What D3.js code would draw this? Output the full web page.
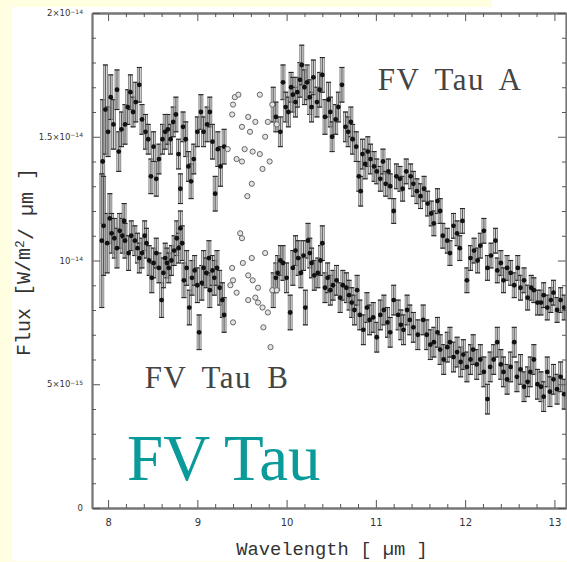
<!DOCTYPE html>
<html>
<head>
<meta charset="utf-8">
<script src="https://cdn.jsdelivr.net/npm/d3@7/dist/d3.min.js"></script>
<style>
  html, body { margin: 0; padding: 0; background: #fffee0; }
  svg { display: block; }
</style>
</head>
<body>
<svg id="chart" width="567" height="562"></svg>
<script>
// Mid-infrared spectra of the FV Tau binary, flux in units of 1e-14 W/m^2/um.
// Each entry: [wavelength (um), flux, 1-sigma error]
const tauA_short = [
  [7.94,1.40,0.25],[7.97,1.61,0.18],[8.00,1.52,0.10],[8.03,1.66,0.09],[8.06,1.55,0.10],
  [8.10,1.69,0.08],[8.12,1.44,0.08],[8.15,1.53,0.07],[8.19,1.55,0.08],[8.22,1.62,0.07],
  [8.25,1.68,0.07],[8.28,1.60,0.06],[8.31,1.64,0.08],[8.35,1.71,0.07],[8.38,1.57,0.06],
  [8.42,1.52,0.07],[8.45,1.49,0.06],[8.48,1.34,0.07],[8.51,1.46,0.06],[8.54,1.33,0.07],
  [8.57,1.41,0.06],[8.61,1.49,0.06],[8.64,1.52,0.07],[8.67,1.53,0.06],[8.70,1.49,0.06],
  [8.73,1.56,0.06],[8.76,1.59,0.07],[8.79,1.43,0.06],[8.81,1.29,0.06],[8.84,1.54,0.06],
  [8.87,1.49,0.07],[8.90,1.38,0.06],[8.93,1.32,0.07],[8.96,1.41,0.06],[9.00,1.52,0.06],
  [9.04,1.60,0.07],[9.07,1.52,0.06],[9.11,1.55,0.07],[9.14,1.60,0.06],[9.17,1.48,0.07],
  [9.20,1.27,0.07],[9.23,1.45,0.07],[9.26,1.38,0.08],[9.30,1.46,0.07]
];
const tauA_long = [
  [9.85,1.63,0.07],[9.88,1.58,0.06],[9.93,1.52,0.06],[9.96,1.72,0.07],[9.99,1.62,0.06],
  [10.02,1.60,0.06],[10.05,1.70,0.06],[10.07,1.67,0.07],[10.10,1.64,0.06],[10.12,1.68,0.06],
  [10.15,1.73,0.07],[10.17,1.79,0.08],[10.20,1.70,0.07],[10.23,1.72,0.07],[10.26,1.66,0.07],
  [10.28,1.62,0.06],[10.30,1.74,0.07],[10.34,1.64,0.06],[10.37,1.69,0.07],[10.40,1.75,0.07],
  [10.43,1.58,0.07],[10.47,1.65,0.07],[10.49,1.60,0.06],[10.51,1.50,0.06],[10.55,1.57,0.06],
  [10.58,1.62,0.06],[10.62,1.71,0.07],[10.66,1.54,0.06],[10.69,1.52,0.06],[10.72,1.56,0.06],
  [10.74,1.49,0.06],[10.78,1.46,0.06],[10.81,1.34,0.06],[10.83,1.28,0.06],[10.85,1.43,0.06],
  [10.88,1.39,0.06],[10.91,1.44,0.06],[10.94,1.41,0.06],[10.98,1.38,0.06],[11.01,1.36,0.05],
  [11.05,1.33,0.05],[11.08,1.40,0.05],[11.11,1.31,0.05],[11.14,1.36,0.05],[11.16,1.30,0.05],
  [11.20,1.20,0.05],[11.23,1.34,0.05],[11.27,1.33,0.05],[11.30,1.29,0.05],[11.34,1.36,0.05],
  [11.39,1.34,0.05],[11.42,1.31,0.05],[11.46,1.28,0.05],[11.50,1.26,0.05],[11.54,1.29,0.05],
  [11.58,1.23,0.05],[11.62,1.19,0.05],[11.65,1.15,0.05],[11.69,1.24,0.05],[11.72,1.20,0.05],
  [11.75,1.10,0.05],[11.80,1.08,0.05],[11.83,1.03,0.05],[11.87,1.14,0.05],[11.91,1.11,0.05],
  [11.94,1.05,0.05],[11.97,1.16,0.05],[12.02,0.92,0.05],[12.06,1.01,0.05],[12.10,1.04,0.05],
  [12.14,1.00,0.05],[12.17,1.06,0.05],[12.21,1.12,0.05],[12.25,0.97,0.05],[12.29,1.02,0.05],
  [12.34,1.08,0.05],[12.36,0.96,0.05],[12.40,0.99,0.05],[12.43,0.92,0.05],[12.47,0.97,0.05],
  [12.51,0.95,0.05],[12.55,0.90,0.05],[12.59,0.97,0.05],[12.62,0.89,0.05],[12.66,0.92,0.05],
  [12.70,0.85,0.05],[12.74,0.89,0.05],[12.77,0.88,0.05],[12.81,0.83,0.05],[12.85,0.83,0.05],
  [12.88,0.86,0.05],[12.92,0.81,0.05],[12.96,0.84,0.05],[12.99,0.87,0.05],[13.03,0.80,0.05],
  [13.07,0.84,0.05],[13.11,0.81,0.05]
];
const tauB_short = [
  [7.93,1.08,0.27],[7.95,1.14,0.20],[7.99,1.07,0.12],[8.02,1.17,0.10],[8.04,1.11,0.08],
  [8.07,1.09,0.08],[8.10,1.05,0.08],[8.13,1.12,0.07],[8.16,1.10,0.07],[8.18,1.16,0.07],
  [8.19,1.08,0.07],[8.23,1.03,0.07],[8.26,1.10,0.06],[8.30,1.08,0.06],[8.33,1.05,0.06],
  [8.35,1.01,0.06],[8.38,1.03,0.06],[8.41,1.10,0.06],[8.43,1.07,0.06],[8.46,1.00,0.06],
  [8.49,0.93,0.06],[8.51,0.99,0.06],[8.54,1.03,0.06],[8.57,0.97,0.06],[8.60,0.84,0.07],
  [8.62,0.95,0.06],[8.64,1.01,0.06],[8.66,0.99,0.06],[8.68,0.97,0.06],[8.71,1.00,0.06],
  [8.74,1.04,0.06],[8.77,1.09,0.07],[8.79,1.05,0.06],[8.81,1.13,0.07],[8.83,1.07,0.07],
  [8.85,0.92,0.07],[8.88,0.97,0.07],[8.91,0.81,0.07],[8.94,0.93,0.07],[8.97,0.96,0.06],
  [9.00,0.90,0.07],[9.02,0.71,0.07],[9.05,0.91,0.07],[9.07,0.97,0.07],[9.10,0.95,0.06],
  [9.13,1.01,0.07],[9.14,0.88,0.07],[9.17,0.96,0.06],[9.19,0.93,0.07],[9.22,0.97,0.07],
  [9.25,0.89,0.07],[9.28,0.84,0.07],[9.30,0.78,0.07]
];
const tauB_long = [
  [9.85,0.88,0.07],[9.88,0.93,0.06],[9.90,0.95,0.07],[9.93,1.00,0.06],[9.96,0.99,0.07],
  [10.00,0.93,0.06],[10.04,0.79,0.07],[10.07,0.97,0.07],[10.10,1.04,0.06],[10.13,1.01,0.07],
  [10.16,0.95,0.06],[10.19,1.02,0.06],[10.21,0.81,0.07],[10.24,1.08,0.07],[10.26,1.03,0.06],
  [10.28,0.99,0.06],[10.31,0.94,0.06],[10.35,0.95,0.06],[10.38,1.00,0.06],[10.40,1.07,0.07],
  [10.43,0.89,0.06],[10.46,0.93,0.06],[10.49,0.88,0.06],[10.52,0.90,0.06],[10.56,0.92,0.06],
  [10.60,0.85,0.06],[10.63,0.90,0.06],[10.67,0.89,0.06],[10.70,0.86,0.06],[10.73,0.83,0.06],
  [10.76,0.80,0.06],[10.79,0.88,0.06],[10.82,0.78,0.06],[10.86,0.72,0.06],[10.90,0.81,0.06],
  [10.93,0.76,0.06],[10.97,0.77,0.06],[11.01,0.69,0.06],[11.05,0.78,0.06],[11.09,0.80,0.06],
  [11.13,0.75,0.06],[11.16,0.71,0.06],[11.20,0.84,0.06],[11.25,0.78,0.06],[11.28,0.74,0.06],
  [11.31,0.72,0.06],[11.35,0.80,0.06],[11.38,0.76,0.06],[11.42,0.73,0.06],[11.47,0.70,0.06],
  [11.53,0.76,0.06],[11.57,0.70,0.06],[11.61,0.66,0.06],[11.65,0.67,0.06],[11.69,0.71,0.06],
  [11.72,0.64,0.06],[11.76,0.60,0.06],[11.80,0.65,0.06],[11.83,0.67,0.06],[11.87,0.61,0.06],
  [11.91,0.63,0.06],[11.95,0.59,0.06],[11.98,0.62,0.06],[12.02,0.57,0.06],[12.06,0.60,0.06],
  [12.09,0.64,0.06],[12.13,0.58,0.06],[12.17,0.60,0.06],[12.21,0.55,0.06],[12.25,0.44,0.06],
  [12.28,0.57,0.06],[12.32,0.60,0.06],[12.36,0.67,0.06],[12.40,0.58,0.06],[12.43,0.55,0.06],
  [12.47,0.52,0.06],[12.51,0.57,0.06],[12.55,0.67,0.06],[12.58,0.53,0.06],[12.62,0.56,0.06],
  [12.66,0.49,0.06],[12.70,0.51,0.06],[12.73,0.55,0.06],[12.77,0.60,0.06],[12.81,0.50,0.06],
  [12.85,0.49,0.06],[12.88,0.45,0.06],[12.92,0.55,0.06],[12.95,0.47,0.06],[12.99,0.52,0.06],
  [13.03,0.48,0.06],[13.07,0.53,0.06],[13.11,0.46,0.06]
];
// Points inside the telluric ozone band, shown without errors: [wavelength, flux]
const tauA_ozone = [
  [9.34,1.45],[9.39,1.59],[9.40,1.63],[9.42,1.66],[9.44,1.41],[9.46,1.67],[9.50,1.54],
  [9.50,1.40],[9.53,1.45],[9.56,1.26],[9.57,1.58],[9.59,1.52],[9.61,1.31],[9.62,1.44],
  [9.65,1.56],[9.70,1.67],[9.70,1.43],[9.73,1.37],[9.76,1.50],[9.79,1.56],[9.81,1.40],
  [9.84,1.63],[9.89,1.55]
];
const tauB_ozone = [
  [9.37,0.90],[9.39,0.97],[9.40,0.92],[9.40,0.75],[9.44,0.87],[9.48,1.11],[9.50,1.09],
  [9.51,0.99],[9.57,0.94],[9.57,0.84],[9.61,1.01],[9.62,0.92],[9.65,0.85],[9.68,0.89],
  [9.68,0.83],[9.73,0.81],[9.74,0.73],[9.76,1.03],[9.79,0.79],[9.82,0.65],[9.84,0.88],
  [9.89,0.88]
];

// Axis ticks
const xMajor = [8, 9, 10, 11, 12, 13];
const yMajor = [0, 0.5, 1, 1.5, 2];
const yLabels = [["0", null], ["5×10", "−15"], ["10", "−14"], ["1.5×10", "−14"], ["2×10", "−14"]];

// Annotation texts, anchored at their left baseline
const seriesLabels = [
  { text: "FV Tau A", x: 11.02, y: 1.69 },
  { text: "FV Tau B", x: 8.41, y: 0.485 }
];

const svg = d3.select("#chart");
const W = 567, H = 562;

// slide backdrop: pale yellow frame around a white panel
svg.append("rect").attr("width", W).attr("height", H).attr("fill", "#fffee0");
svg.append("rect").attr("x", 12).attr("y", 7).attr("width", W - 12).attr("height", 554).attr("fill", "#ffffff");
svg.append("rect").attr("x", 492).attr("y", 0).attr("width", W - 492).attr("height", 8).attr("fill", "#ffffff");

const mLeft = 92, mRight = 566, mTop = 13, mBottom = 508;
const x = d3.scaleLinear().domain([7.82, 13.13]).range([mLeft, mRight]);
const y = d3.scaleLinear().domain([0, 2]).range([mBottom, mTop]);

const plot = svg.append("g");

function drawSpectrum(data) {
  const g = plot.append("g");
  const bars = g.selectAll("g.bar").data(data).join("g").attr("class", "bar");
  bars.append("rect")
    .attr("x", d => x(d[0]) - 2)
    .attr("width", 4)
    .attr("y", d => y(d[1] + d[2]))
    .attr("height", d => y(d[1] - d[2]) - y(d[1] + d[2]))
    .attr("fill", "#bbbbbb").attr("fill-opacity", 0.6)
    .attr("stroke", "#777").attr("stroke-width", 0.8);
  bars.append("line")
    .attr("x1", d => x(d[0]) - 2.5).attr("x2", d => x(d[0]) + 2.5)
    .attr("y1", d => y(d[1] + d[2])).attr("y2", d => y(d[1] + d[2]))
    .attr("stroke", "#222").attr("stroke-width", 1.1);
  bars.append("line")
    .attr("x1", d => x(d[0]) - 2.5).attr("x2", d => x(d[0]) + 2.5)
    .attr("y1", d => y(d[1] - d[2])).attr("y2", d => y(d[1] - d[2]))
    .attr("stroke", "#222").attr("stroke-width", 1.1);
  bars.append("line")
    .attr("x1", d => x(d[0])).attr("x2", d => x(d[0]))
    .attr("y1", d => y(d[1] + d[2])).attr("y2", d => y(d[1] - d[2]))
    .attr("stroke", "#444").attr("stroke-width", 0.9);
  g.selectAll("circle").data(data).join("circle")
    .attr("cx", d => x(d[0])).attr("cy", d => y(d[1]))
    .attr("r", 2.4).attr("fill", "#111");
}
function drawOzone(data) {
  plot.append("g").selectAll("circle").data(data).join("circle")
    .attr("cx", d => x(d[0])).attr("cy", d => y(d[1]))
    .attr("r", 2.6).attr("fill", "#e4e4e4")
    .attr("stroke", "#666").attr("stroke-width", 1);
}
drawSpectrum(tauA_short); drawSpectrum(tauA_long);
drawSpectrum(tauB_short); drawSpectrum(tauB_long);
drawOzone(tauA_ozone); drawOzone(tauB_ozone);

// frame with inward ticks on all four sides
const axColor = "#777";
function styleAxis(g) {
  g.select(".domain").attr("stroke", axColor).attr("stroke-width", 1.8);
  g.selectAll(".tick line").attr("stroke", "#555").attr("stroke-width", 1);
}
const xMinor = d3.range(7.8, 13.2, 0.2).filter(v => v >= 7.82 && v <= 13.13 && !xMajor.some(m => Math.abs(m - v) < 1e-6));
const yMinor = d3.range(0, 2.01, 0.1).filter(v => !yMajor.some(m => Math.abs(m - v) < 1e-6));

svg.append("g").attr("transform", `translate(0,${mBottom})`)
  .call(d3.axisBottom(x).tickValues(xMajor).tickSize(-8).tickSizeOuter(0).tickPadding(11).tickFormat(d3.format("d")))
  .call(styleAxis)
  .call(g => g.selectAll("text").attr("font-family", "DejaVu Sans, sans-serif").attr("font-size", 10).attr("fill", "#333"));
svg.append("g").attr("transform", `translate(0,${mBottom})`)
  .call(d3.axisBottom(x).tickValues(xMinor).tickSize(-4).tickSizeOuter(0).tickFormat(""))
  .call(styleAxis);
svg.append("g").attr("transform", `translate(0,${mTop})`)
  .call(d3.axisTop(x).tickValues(xMajor).tickSize(-8).tickSizeOuter(0).tickFormat(""))
  .call(styleAxis);
svg.append("g").attr("transform", `translate(0,${mTop})`)
  .call(d3.axisTop(x).tickValues(xMinor).tickSize(-4).tickSizeOuter(0).tickFormat(""))
  .call(styleAxis);

const yAxisG = svg.append("g").attr("transform", `translate(${mLeft},0)`)
  .call(d3.axisLeft(y).tickValues(yMajor).tickSize(-8).tickSizeOuter(0).tickPadding(9).tickFormat(""))
  .call(styleAxis);
svg.append("g").attr("transform", `translate(${mLeft},0)`)
  .call(d3.axisLeft(y).tickValues(yMinor).tickSize(-4).tickSizeOuter(0).tickFormat(""))
  .call(styleAxis);
svg.append("g").attr("transform", `translate(${mRight},0)`)
  .call(d3.axisRight(y).tickValues(yMajor).tickSize(-8).tickSizeOuter(0).tickFormat(""))
  .call(styleAxis);
svg.append("g").attr("transform", `translate(${mRight},0)`)
  .call(d3.axisRight(y).tickValues(yMinor).tickSize(-4).tickSizeOuter(0).tickFormat(""))
  .call(styleAxis);

// y tick labels with superscript exponents
yAxisG.selectAll(".tick").each(function (d, i) {
  const lab = yLabels[i];
  const t = d3.select(this).select("text")
    .attr("x", -9).attr("dy", "0.32em")
    .attr("font-family", "DejaVu Sans, sans-serif").attr("font-size", 8.5)
    .attr("fill", "#333").attr("text-anchor", "end").text(null);
  t.append("tspan").text(lab[0]);
  if (lab[1]) t.append("tspan").attr("dy", "-0.45em").attr("font-size", 6).text(lab[1]);
});

// axis titles
svg.append("text")
  .attr("x", 332).attr("y", 555)
  .attr("text-anchor", "middle")
  .attr("font-family", "Liberation Mono, DejaVu Sans Mono, monospace")
  .attr("font-size", 18.8).attr("fill", "#333")
  .text("Wavelength [ µm ]");
const yt = svg.append("text")
  .attr("transform", "translate(30,262) rotate(-90)")
  .attr("text-anchor", "middle")
  .attr("font-family", "Liberation Mono, DejaVu Sans Mono, monospace")
  .attr("font-size", 20).attr("fill", "#333");
yt.append("tspan").text("Flux [W/m");
yt.append("tspan").attr("dy", "-0.45em").attr("font-size", 13).text("2");
yt.append("tspan").attr("dy", "0.45em").text("/ µm ]");

// series annotations
svg.append("g").selectAll("text").data(seriesLabels).join("text")
  .attr("x", d => x(d.x)).attr("y", d => y(d.y))
  .attr("text-anchor", "start")
  .attr("font-family", "Liberation Serif, Times New Roman, serif")
  .attr("font-size", 31).attr("fill", "#444")
  .attr("letter-spacing", 1.5).attr("word-spacing", 6)
  .text(d => d.text);

// slide title
svg.append("text")
  .attr("x", 127).attr("y", 480)
  .attr("font-family", "Liberation Serif, Times New Roman, serif")
  .attr("font-size", 65).attr("fill", "#0a9a9a")
  .text("FV Tau");
</script>
</body>
</html>
